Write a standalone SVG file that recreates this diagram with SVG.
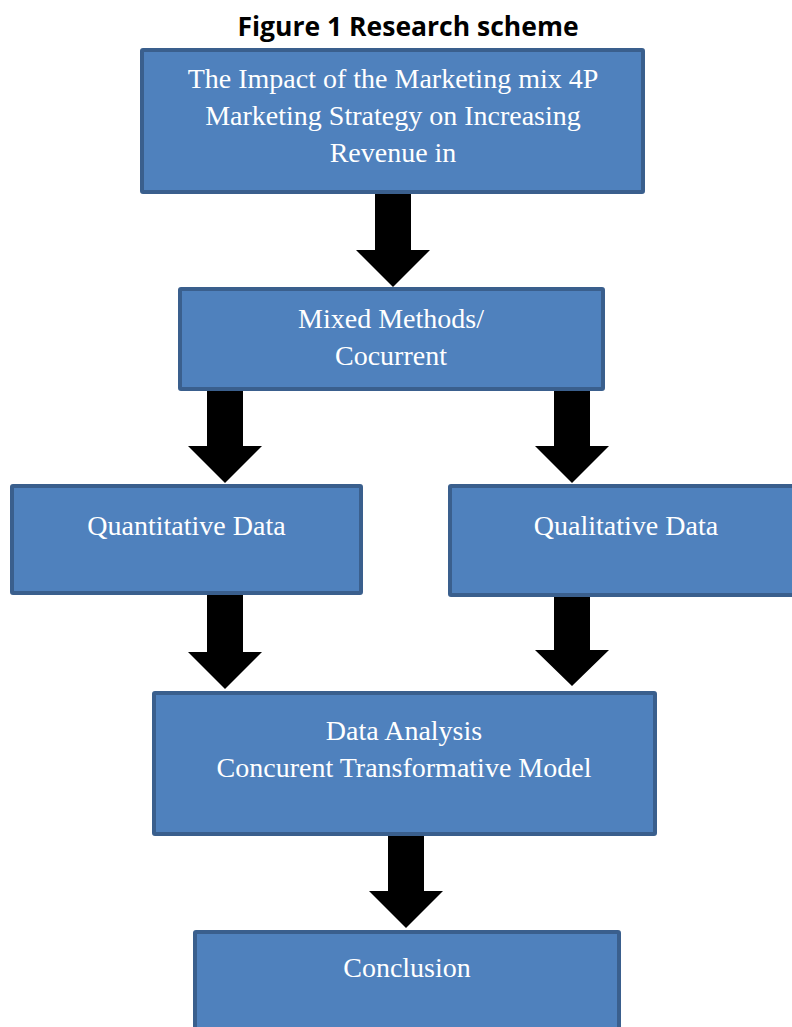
<svg xmlns="http://www.w3.org/2000/svg" width="792" height="1027" viewBox="0 0 792 1027">
  <style>
    .box { fill: #4F81BD; stroke: #3A5F8D; stroke-width: 4; }
    .lbl { font-family: "Liberation Serif", "Times New Roman", serif; font-size: 28px; fill: #FFFFFF; text-anchor: middle; }
    .title { font-family: "Open Sans", "Liberation Sans", sans-serif; font-size: 26.5px; font-weight: bold; fill: #000000; text-anchor: middle; }
    .arrow { fill: #000000; }
  </style>
  <defs>
    <!-- block arrow pointing down: tip at (0,0), shaft 36 wide, head 74 wide, head 37 tall -->
    <path id="blockArrow" d="M-18,-97 L18,-97 L18,-37 L37,-37 L0,0 L-37,-37 L-18,-37 Z"/>
  </defs>

  <rect width="792" height="1027" fill="#FFFFFF"/>

  <text class="title" x="408" y="35.5">Figure 1 Research scheme</text>

  <g id="connectors" class="arrow">
    <use href="#blockArrow" transform="translate(393,287)"/>
    <use href="#blockArrow" transform="translate(225,483)"/>
    <use href="#blockArrow" transform="translate(572,483)"/>
    <use href="#blockArrow" transform="translate(225,689)"/>
    <use href="#blockArrow" transform="translate(572,686) scale(1,0.97)"/>
    <use href="#blockArrow" transform="translate(406,928)"/>
  </g>

  <g id="topic">
    <rect class="box" x="142" y="50" width="501" height="142" rx="1"/>
    <text class="lbl" x="393" y="88">The Impact of the Marketing mix 4P</text>
    <text class="lbl" x="393" y="125">Marketing Strategy on Increasing</text>
    <text class="lbl" x="393" y="162">Revenue in</text>
  </g>

  <g id="mixed-methods">
    <rect class="box" x="180" y="289" width="423" height="100" rx="1"/>
    <text class="lbl" x="391" y="328">Mixed Methods/</text>
    <text class="lbl" x="391" y="365">Cocurrent</text>
  </g>

  <g id="quantitative">
    <rect class="box" x="12" y="486" width="349" height="107" rx="1"/>
    <text class="lbl" x="186.5" y="535">Quantitative Data</text>
  </g>

  <g id="qualitative">
    <rect class="box" x="450" y="486" width="360" height="109" rx="1"/>
    <text class="lbl" x="626" y="535">Qualitative Data</text>
  </g>

  <g id="data-analysis">
    <rect class="box" x="154" y="693" width="501" height="141" rx="1"/>
    <text class="lbl" x="404" y="740">Data Analysis</text>
    <text class="lbl" x="404" y="777">Concurent Transformative Model</text>
  </g>

  <g id="conclusion">
    <rect class="box" x="195" y="932" width="424" height="110" rx="1"/>
    <text class="lbl" x="407" y="977">Conclusion</text>
  </g>
</svg>
